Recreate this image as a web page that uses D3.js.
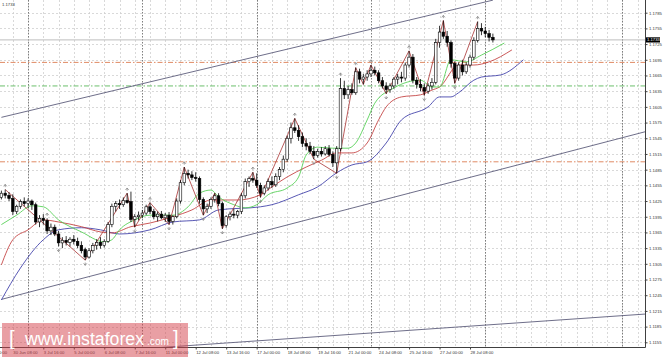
<!DOCTYPE html>
<html><head><meta charset="utf-8">
<script src="https://cdn.jsdelivr.net/npm/d3@7"></script>
<style>body{margin:0;background:#fff;overflow:hidden}svg{display:block;font-family:"Liberation Sans",Arial,sans-serif}</style>
</head><body><svg id="c" width="665" height="357"></svg>
<script>
// ---------- DATA (EURUSD H4, 29 Jun 20:00 .. 31 Jul 08:00) ----------
const opens=[1.1432,1.1440,1.1436,1.1430,1.1405,1.1415,1.1424,1.1420,1.1425,1.1418,
1.1385,1.1392,1.1388,1.1368,1.1375,1.1362,1.1345,1.1350,1.1346,1.1352,
1.1348,1.1340,1.1332,1.1318,1.1330,1.1340,1.1346,1.1340,1.1348,1.1380,
1.1415,1.1420,1.1418,1.1426,1.1424,1.1390,1.1395,1.1398,1.1402,1.1414,
1.1405,1.1395,1.1400,1.1393,1.1398,1.1386,1.1395,1.1425,1.1460,1.1478,
1.1475,1.1470,1.1468,1.1428,1.1410,1.1415,1.1428,1.1435,1.1420,1.1378,
1.1395,1.1400,1.1398,1.1405,1.1435,1.1462,1.1468,1.1465,1.1455,1.1440,
1.1450,1.1462,1.1456,1.1472,1.1485,1.1505,1.1545,1.1565,1.1560,1.1548,
1.1535,1.1530,1.1520,1.1512,1.1520,1.1515,1.1525,1.1514,1.1498,1.1525,
1.1640,1.1628,1.1638,1.1632,1.1672,1.1658,1.1662,1.1668,1.1675,1.1670,
1.1655,1.1645,1.1638,1.1645,1.1658,1.1662,1.1660,1.1685,1.1700,1.1656,
1.1648,1.1642,1.1635,1.1645,1.1652,1.1728,1.1748,1.1740,1.1728,1.1688,
1.1660,1.1685,1.1672,1.1685,1.1700,1.1732,1.1755,1.1750,1.1745,1.1738];
const highs=[1.1445,1.1447,1.1442,1.1438,1.1418,1.1428,1.1432,1.1430,1.1428,1.1422,
1.1398,1.1400,1.1392,1.1382,1.1380,1.1368,1.1356,1.1358,1.1356,1.1360,
1.1355,1.1348,1.1336,1.1335,1.1345,1.1352,1.1356,1.1352,1.1385,1.1420,
1.1425,1.1428,1.1432,1.1440,1.1443,1.1400,1.1405,1.1408,1.1418,1.1422,
1.1410,1.1405,1.1406,1.1402,1.1404,1.1398,1.1430,1.1465,1.1490,1.1485,
1.1482,1.1480,1.1472,1.1432,1.1420,1.1432,1.1440,1.1440,1.1424,1.1398,
1.1405,1.1410,1.1408,1.1440,1.1468,1.1472,1.1480,1.1478,1.1460,1.1455,
1.1468,1.1472,1.1478,1.1490,1.1512,1.1550,1.1575,1.1583,1.1570,1.1556,
1.1545,1.1538,1.1530,1.1525,1.1528,1.1530,1.1532,1.1520,1.1530,1.1660,
1.1655,1.1645,1.1650,1.1680,1.1678,1.1668,1.1675,1.1685,1.1682,1.1675,
1.1662,1.1652,1.1650,1.1662,1.1668,1.1672,1.1690,1.1712,1.1706,1.1662,
1.1658,1.1650,1.1650,1.1660,1.1735,1.1760,1.1770,1.1750,1.1732,1.1692,
1.1690,1.1695,1.1690,1.1705,1.1738,1.1768,1.1765,1.1758,1.1752,1.1745];
const lows=[1.1428,1.1430,1.1425,1.1398,1.1400,1.1410,1.1415,1.1412,1.1408,1.1380,
1.1375,1.1380,1.1362,1.1360,1.1358,1.1338,1.1335,1.1340,1.1338,1.1342,
1.1335,1.1325,1.1312,1.1315,1.1325,1.1332,1.1334,1.1336,1.1345,1.1375,
1.1405,1.1410,1.1414,1.1420,1.1385,1.1375,1.1388,1.1392,1.1398,1.1400,
1.1390,1.1386,1.1390,1.1385,1.1380,1.1380,1.1392,1.1420,1.1455,1.1468,
1.1465,1.1462,1.1420,1.1398,1.1402,1.1410,1.1422,1.1415,1.1372,1.1374,
1.1388,1.1392,1.1392,1.1400,1.1430,1.1452,1.1460,1.1450,1.1432,1.1436,
1.1445,1.1450,1.1452,1.1465,1.1480,1.1500,1.1535,1.1555,1.1540,1.1528,
1.1522,1.1515,1.1505,1.1508,1.1510,1.1512,1.1510,1.1490,1.1478,1.1520,
1.1620,1.1620,1.1628,1.1628,1.1650,1.1648,1.1655,1.1662,1.1665,1.1650,
1.1640,1.1630,1.1632,1.1640,1.1648,1.1652,1.1655,1.1680,1.1650,1.1640,
1.1635,1.1627,1.1630,1.1638,1.1648,1.1718,1.1735,1.1720,1.1680,1.1650,
1.1655,1.1665,1.1668,1.1680,1.1695,1.1728,1.1742,1.1738,1.1730,1.1728];
const closes=[1.1440,1.1436,1.1430,1.1405,1.1415,1.1424,1.1420,1.1425,1.1418,1.1385,
1.1392,1.1388,1.1368,1.1375,1.1362,1.1345,1.1350,1.1346,1.1352,1.1348,
1.1340,1.1330,1.1318,1.1330,1.1340,1.1346,1.1340,1.1348,1.1380,1.1415,
1.1420,1.1418,1.1426,1.1422,1.1390,1.1395,1.1398,1.1402,1.1414,1.1405,
1.1395,1.1400,1.1393,1.1398,1.1386,1.1395,1.1425,1.1460,1.1478,1.1475,
1.1470,1.1468,1.1428,1.1410,1.1415,1.1428,1.1435,1.1420,1.1378,1.1395,
1.1400,1.1398,1.1405,1.1435,1.1462,1.1468,1.1465,1.1455,1.1440,1.1450,
1.1462,1.1456,1.1472,1.1485,1.1505,1.1545,1.1565,1.1560,1.1548,1.1535,
1.1530,1.1520,1.1512,1.1520,1.1515,1.1525,1.1514,1.1498,1.1525,1.1640,
1.1628,1.1638,1.1632,1.1672,1.1658,1.1662,1.1668,1.1675,1.1670,1.1655,
1.1645,1.1638,1.1645,1.1658,1.1662,1.1660,1.1685,1.1700,1.1656,1.1648,
1.1642,1.1635,1.1645,1.1652,1.1728,1.1748,1.1740,1.1728,1.1688,1.1660,
1.1685,1.1672,1.1685,1.1700,1.1732,1.1755,1.1750,1.1745,1.1738,1.1733];

// Alligator lines (shifted forward)
const jawBars=[0,5,11,15,21,26,31,39,45,52,57,68,71,78,83,88,92,96,101,105,112,115,118,120,124,126,131,137];
const jawVals=[1.1236,1.1297,1.1351,1.1370,1.1374,1.1370,1.1362,1.1370,1.1385,1.1389,1.1408,1.1414,1.1418,1.1437,1.1452,1.1479,1.1494,1.1500,1.1536,1.1580,1.1605,1.1624,1.1624,1.1632,1.1656,1.1662,1.1666,1.1695];
const teethBars=[0,3,7,11,15,21,26,29,34,39,45,50,55,62,68,71,75,80,84,88,92,96,99,101,105,110,113,115,120,124,128,134];
const teethVals=[1.1303,1.1351,1.1370,1.1389,1.1385,1.1376,1.1366,1.1364,1.1376,1.1383,1.1395,1.1408,1.1427,1.1427,1.1437,1.1452,1.1471,1.1490,1.1503,1.1517,1.1517,1.1536,1.1580,1.1605,1.1624,1.1628,1.1637,1.1643,1.1685,1.1685,1.1691,1.1714];
const lipsBars=[0,4,8,11,15,21,27,29,31,35,39,45,49,52,55,57,61,64,67,70,75,78,80,83,87,91,93,96,98,103,110,113,115,118,122,126,132];
const lipsVals=[1.1380,1.1398,1.1416,1.1414,1.1389,1.1366,1.1347,1.1351,1.1370,1.1389,1.1398,1.1398,1.1414,1.1440,1.1446,1.1433,1.1418,1.1412,1.1418,1.1437,1.1450,1.1471,1.1513,1.1528,1.1526,1.1526,1.1536,1.1580,1.1612,1.1641,1.1656,1.1643,1.1643,1.1695,1.1691,1.1704,1.1727];

// ZigZag pivots
const zzBars=[1,22,33,35,39,44,48,53,56,58,66,68,77,82,88,93,95,97,101,107,111,116,119,125];
const zzVals=[1.1447,1.1312,1.1440,1.1375,1.1422,1.1380,1.1490,1.1398,1.1440,1.1372,1.1480,1.1432,1.1583,1.1505,1.1478,1.1680,1.1648,1.1685,1.1630,1.1712,1.1627,1.1770,1.1650,1.1768];

// Fractals
const upFractals=[1,12,33,39,48,66,77,89,93,97,107,116,125];
const downFractals=[15,22,35,44,53,58,68,82,88,101,111,119];

// Horizontal levels
const levelVals=[1.1690,1.1645,1.1500];
const levelColors=["#e08a64","#6cbf6c","#e08a64"];
const bidPrice=1.1733;

// Trend lines (bar, price)
const trendStartBars=[0,0,0], trendStartVals=[1.1585,1.1237,1.1124];
const trendEndBars=[129,174,169], trendEndVals=[1.1809,1.1567,1.1209];

// Axis labels
const yTickLabels=["1.1785","1.1755","1.1725","1.1695","1.1665","1.1635","1.1605","1.1575","1.1545","1.1515","1.1485","1.1455","1.1425","1.1395","1.1365","1.1335","1.1305","1.1275","1.1245","1.1215","1.1185","1.1155"];
const xTickBars=[-5,3,11,19,27,35,43,51,59,67,75,83,91,99,107,115,123];
const xTickLabels=["29 Jun 00:00","30 Jun 08:00","3 Jul 16:00","5 Jul 00:00","6 Jul 08:00","7 Jul 16:00","11 Jul 00:00","12 Jul 08:00","13 Jul 16:00","17 Jul 00:00","18 Jul 08:00","19 Jul 16:00","21 Jul 00:00","24 Jul 08:00","25 Jul 16:00","27 Jul 00:00","28 Jul 08:00"];
const separatorBars=[7,37,67,97,127,163];

// ---------- DRAW ----------
const PR=645, PB=347;
const x=d3.scaleLinear().domain([0,1]).range([1.4,5.21]);
const y=d3.scaleLinear().domain([1.1155,1.1785]).range([342.3,12.7]);
const svg=d3.select("#c");
svg.append("rect").attr("width",665).attr("height",357).attr("fill","#fff");
svg.append("defs").append("clipPath").attr("id","pc").append("rect").attr("x",0).attr("y",0).attr("width",PR).attr("height",PB);
const g=svg.append("g").attr("clip-path","url(#pc)");

// grid
const yTickVals=yTickLabels.map(Number);
g.selectAll(".hg").data(yTickVals).join("line")
  .attr("x1",0).attr("x2",PR).attr("y1",d=>Math.round(y(d))+0.5).attr("y2",d=>Math.round(y(d))+0.5)
  .attr("stroke","#cfcfcf").attr("stroke-width",0.8).attr("stroke-dasharray","2,2");
const gridBars=d3.range(3,175,4);
g.selectAll(".vg").data(gridBars).join("line")
  .attr("x1",d=>Math.round(x(d))+0.5).attr("x2",d=>Math.round(x(d))+0.5).attr("y1",0).attr("y2",PB)
  .attr("stroke","#cfcfcf").attr("stroke-width",0.8).attr("stroke-dasharray","2,2");
g.selectAll(".sep").data(separatorBars).join("line")
  .attr("x1",d=>Math.round(x(d))+0.5).attr("x2",d=>Math.round(x(d))+0.5).attr("y1",0).attr("y2",PB)
  .attr("stroke","#707070").attr("stroke-width",0.9).attr("stroke-dasharray","1.5,1.5");

// bid line
g.append("line").attr("x1",0).attr("x2",PR).attr("y1",y(bidPrice)).attr("y2",y(bidPrice))
  .attr("stroke","#bdbdbd").attr("stroke-width",1);

// levels
g.selectAll(".lvl").data(levelVals).join("line")
  .attr("x1",0).attr("x2",PR).attr("y1",d=>y(d)).attr("y2",d=>y(d))
  .attr("stroke",(d,i)=>levelColors[i]).attr("stroke-width",1).attr("stroke-dasharray","5,2,1.5,2");

// trend lines
g.selectAll(".tl").data(trendStartBars).join("line")
  .attr("x1",(d,i)=>x(trendStartBars[i])).attr("y1",(d,i)=>y(trendStartVals[i]))
  .attr("x2",(d,i)=>x(trendEndBars[i])).attr("y2",(d,i)=>y(trendEndVals[i]))
  .attr("stroke","#5e5e7c").attr("stroke-width",0.9);

// alligator
const ln=d3.line().x(d=>x(d[0])).y(d=>y(d[1])).curve(d3.curveMonotoneX);
const addLine=(bars,vals,col)=>g.append("path").attr("d",ln(bars.map((b,i)=>[b,vals[i]])))
  .attr("fill","none").attr("stroke",col).attr("stroke-width",0.85);
addLine(jawBars,jawVals,"#3a3aa6");
addLine(teethBars,teethVals,"#c23b3b");
addLine(lipsBars,lipsVals,"#4fcf4f");

// zigzag
g.append("path").attr("d",d3.line().x(d=>x(d[0])).y(d=>y(d[1]))(zzBars.map((b,i)=>[b,zzVals[i]])))
  .attr("fill","none").attr("stroke","#a83232").attr("stroke-width",0.8);

// candles
const bars=d3.range(closes.length);
const cg=g.append("g");
cg.selectAll(".wick").data(bars).join("line")
  .attr("x1",i=>x(i)).attr("x2",i=>x(i)).attr("y1",i=>y(highs[i])).attr("y2",i=>y(lows[i]))
  .attr("stroke","#000").attr("stroke-width",0.8);
cg.selectAll(".body").data(bars).join("rect")
  .attr("x",i=>x(i)-1.3).attr("width",2.6)
  .attr("y",i=>y(Math.max(opens[i],closes[i])))
  .attr("height",i=>Math.max(0.8,Math.abs(y(opens[i])-y(closes[i]))))
  .attr("fill",i=>closes[i]>=opens[i]?"#fff":"#000").attr("stroke","#000").attr("stroke-width",0.6);

// fractals
const fr=g.append("g").attr("fill","none").attr("stroke","#8a8a8a").attr("stroke-width",0.8);
fr.selectAll(".fu").data(upFractals).join("path")
  .attr("transform",i=>`translate(${x(i)},${y(highs[i])-4})`)
  .attr("d","M-1.6,0.8L0,-1.2L1.6,0.8M0,-1.2V1.6");
fr.selectAll(".fd").data(downFractals).join("path")
  .attr("transform",i=>`translate(${x(i)},${y(lows[i])+4})`)
  .attr("d","M-1.6,-0.8L0,1.2L1.6,-0.8M0,1.2V-1.6");

// axes
svg.append("line").attr("x1",PR+0.5).attr("x2",PR+0.5).attr("y1",0).attr("y2",PB+0.5).attr("stroke","#404040");
svg.append("line").attr("x1",0).attr("x2",PR+0.5).attr("y1",PB+0.5).attr("y2",PB+0.5).attr("stroke","#404040");
const yAxis=d3.axisRight(y).tickValues(yTickVals).tickFormat((d,i)=>yTickLabels[i]).tickSize(2).tickPadding(1.5);
const ya=svg.append("g").attr("transform",`translate(${PR+0.5},0)`).call(yAxis);
ya.select(".domain").remove();
ya.selectAll("text").attr("font-size",4.2).attr("fill","#333").attr("font-family","Liberation Sans, Arial, sans-serif");
ya.selectAll("line").attr("stroke","#404040");
const xAxis=d3.axisBottom(x).tickValues(xTickBars).tickFormat((d,i)=>xTickLabels[i]).tickSize(2).tickPadding(1.5);
const xa=svg.append("g").attr("transform",`translate(0,${PB+0.5})`).call(xAxis);
xa.select(".domain").remove();
xa.selectAll("text").attr("font-size",4.2).attr("fill","#333").attr("text-anchor","start").attr("font-family","Liberation Sans, Arial, sans-serif");
xa.selectAll("line").attr("stroke","#404040");

// price label
svg.append("rect").attr("x",PR+1).attr("y",y(bidPrice)-2.6).attr("width",14).attr("height",5.2).attr("fill","#000");
svg.append("text").attr("x",PR+2).attr("y",y(bidPrice)+1.5).attr("font-size",4.2).attr("fill","#fff").text(bidPrice.toFixed(4));
svg.append("text").attr("x",2).attr("y",6).attr("font-size",4.2).attr("fill","#333").text(bidPrice.toFixed(4));

// watermark
const wm=svg.append("g");
wm.append("rect").attr("x",2).attr("y",323).attr("width",186).attr("height",34).attr("fill","rgba(212,64,74,0.5)");
wm.append("text").attr("x",9).attr("y",345).attr("font-size",20).attr("fill","#fff").attr("font-weight",300).text("[");
wm.append("text").attr("x",25).attr("y",345).attr("font-size",18).attr("fill","#fff").attr("font-weight",300)
  .attr("textLength",119).attr("lengthAdjust","spacingAndGlyphs").text("www.instaforex");
wm.append("text").attr("x",147).attr("y",345).attr("font-size",11).attr("fill","#fff")
  .attr("textLength",22).attr("lengthAdjust","spacingAndGlyphs").text(".com");
wm.append("text").attr("x",173).attr("y",345).attr("font-size",20).attr("fill","#fff").attr("font-weight",300).text("]");
</script></body></html>
